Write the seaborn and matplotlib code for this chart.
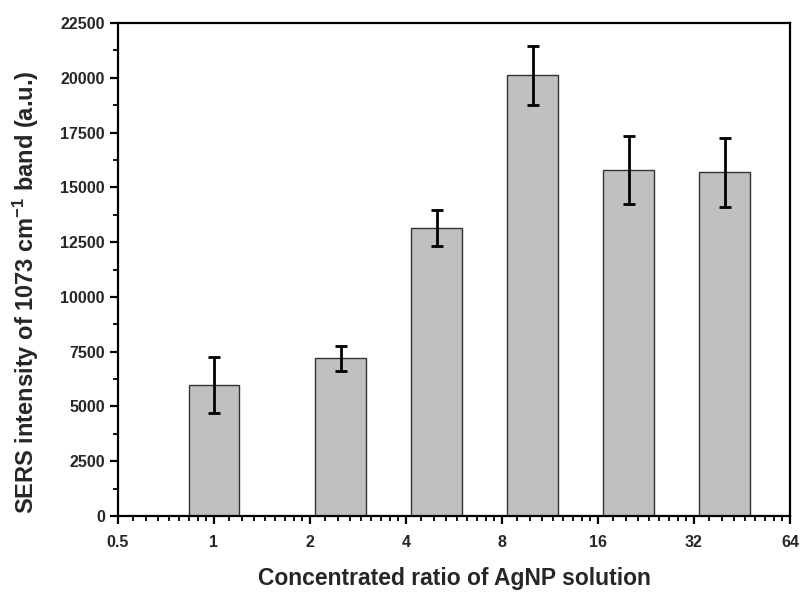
import numpy as np
import pandas as pd
import matplotlib
matplotlib.use("Agg")
import matplotlib.pyplot as plt
import matplotlib.ticker as mticker
import seaborn as sns

ratios = [1, 2.5, 5, 10, 20, 40]
intensity = [5980, 7200, 13150, 20120, 15790, 15680]
errors = [1260, 570, 810, 1350, 1550, 1590]
xticks = [0.5, 1, 2, 4, 8, 16, 32, 64]
xticklabels = ["0.5", "1", "2", "4", "8", "16", "32", "64"]
yticks = list(range(0, 22501, 2500))

sns.set_style("ticks")
plt.rcParams["font.family"] = ["Liberation Sans", "DejaVu Sans"]
plt.rcParams["font.weight"] = "bold"
plt.rcParams["mathtext.fontset"] = "custom"
plt.rcParams["mathtext.rm"] = "Liberation Sans:bold"
plt.rcParams["mathtext.default"] = "rm"

df = pd.DataFrame({"ratio": ratios, "intensity": intensity})

fig = plt.figure(figsize=(8.02, 5.93), dpi=100)
ax = fig.add_axes([0.1471, 0.1298, 0.985 - 0.1471, 0.9612 - 0.1298])
ax.set_xscale("log", base=2)
ax.set_xlim(0.5, 64)
ax.set_ylim(0, 22500)

sns.barplot(data=df, x="ratio", y="intensity", native_scale=True, width=0.53,
            color="#c0c0c0", edgecolor="#333333", linewidth=1.0, saturation=1,
            errorbar=None, ax=ax)
ax.errorbar(ratios, intensity, yerr=errors, fmt="none", ecolor="black",
            elinewidth=2.0, capsize=4.3, capthick=2.0)

ax.set_xscale("log", base=2)
ax.set_xlim(0.5, 64)
ax.xaxis.set_major_locator(mticker.FixedLocator(xticks))
ax.xaxis.set_major_formatter(mticker.FixedFormatter(xticklabels))
ax.xaxis.set_minor_locator(mticker.LogLocator(base=2, subs=[1 + k / 9 for k in range(1, 9)], numticks=20))
ax.xaxis.set_minor_formatter(mticker.NullFormatter())
ax.set_yticks(yticks)
ax.yaxis.set_minor_locator(mticker.MultipleLocator(1250))

for s in ax.spines.values():
    s.set_linewidth(1.6)
    s.set_color("black")
ax.tick_params(axis="both", which="major", direction="out", length=6, width=1.6,
               labelsize=11.5, color="black")
ax.tick_params(axis="x", which="major", pad=8)
ax.tick_params(axis="both", which="minor", direction="out", length=3.5, width=1.3, color="black")
for lab in ax.get_xticklabels() + ax.get_yticklabels():
    lab.set_fontweight("bold")

ax.set_xlabel("Concentrated ratio of AgNP solution", fontsize=16.5, fontweight="bold", labelpad=12)
ax.set_ylabel(r"SERS intensity of 1073 cm$^{-1}$ band (a.u.)", fontsize=17, fontweight="bold")
ax.yaxis.set_label_coords(-0.114, 0.454)

fig.savefig("out.png", dpi=100)
